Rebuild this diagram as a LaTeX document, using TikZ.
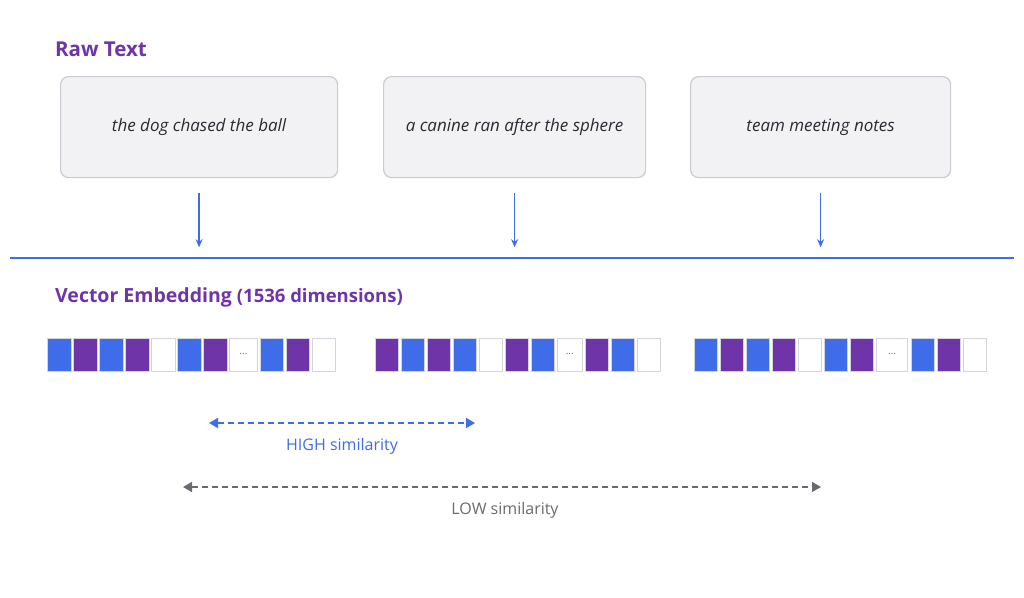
\documentclass[tikz,border=0pt]{standalone}
\usepackage{fontspec}
\setmainfont{Open Sans}
\usetikzlibrary{arrows.meta}
\definecolor{vpurple}{HTML}{6F35A8}
\definecolor{vblue}{HTML}{3F6CE9}
\definecolor{boxfill}{HTML}{F2F2F4}
\definecolor{boxline}{HTML}{CBCBD1}
\definecolor{cellline}{HTML}{D4D4DC}
\definecolor{lowgray}{HTML}{6A6B70}
\definecolor{textdark}{HTML}{2A2A33}
\tikzset{
  heading/.style={anchor=base west, inner sep=0, text=vpurple, font=\fontsize{20.5}{25}\selectfont\bfseries},
  rawbox/.style={draw=boxline, line width=1.2pt, fill=boxfill, rounded corners=8pt, anchor=north west, inner sep=0,
     minimum height=101pt, font=\fontsize{17}{20}\selectfont\itshape, text=textdark},
  feed/.style={draw=vblue, line width=1.3pt, -{Stealth[length=8pt,width=7pt]}},
  cell/.style={draw=cellline, line width=1pt, anchor=north west, inner sep=0, minimum width=23.3pt, minimum height=33pt},
  simarrow/.style={line width=1.5pt, dash pattern=on 6pt off 4pt, {Triangle[length=9pt,width=10pt]}-{Triangle[length=9pt,width=10pt]}},
  simlabel/.style={font=\fontsize{16}{19}\selectfont, inner sep=0},
}
\newcommand\embrow[4]{% #1 start x, #2 dots width, #3 prefix, #4 list
  \foreach \c [count=\i] in {#4} {
    \ifnum\i<8
      \pgfmathsetmacro\xx{#1+(\i-1)*26}
      \node[cell, fill=\c] (#3\i) at (\xx,338) {};
    \else\ifnum\i=8
      \pgfmathsetmacro\xx{#1+182}
      \node[cell, fill=white, minimum width=#2 pt, font=\fontsize{10}{10}\selectfont, text=lowgray] (#3\i) at (\xx,338) {\raisebox{2pt}{...}};
    \else
      \pgfmathsetmacro\xx{#1+182+#2+3.5+(\i-9)*26}
      \node[cell, fill=\c] (#3\i) at (\xx,338) {};
    \fi\fi
  }
}
\begin{document}
\begin{tikzpicture}[x=1pt,y=-1pt]
\useasboundingbox[fill=white] (0,0) rectangle (1024,597);

\node[heading] (rawtitle) at (55,56) {Raw Text};

\node[rawbox, minimum width=277pt] (t1) at (60,76) {the dog chased the ball};
\node[rawbox, minimum width=262pt] (t2) at (383,76) {a canine ran after the sphere};
\node[rawbox, minimum width=260pt] (t3) at (690,76) {team meeting notes};

\coordinate (sepL) at (10,258);
\coordinate (sepR) at (1014,258);
\draw[vblue, line width=1.5pt] (sepL) -- (sepR);

\foreach \k in {1,2,3} {
  \draw[feed] ([yshift=-15pt]t\k.south) -- ([yshift=-69pt]t\k.south);
}

\node[heading, font=\fontsize{19.5}{24}\selectfont\bfseries] (vectitle) at (55,302) {Vector Embedding \fontsize{18.5}{22}\selectfont(1536 dimensions)};

\embrow{47.3}{27.3}{a}{vblue,vpurple,vblue,vpurple,white,vblue,vpurple,white,vblue,vpurple,white}
\embrow{375}{24.5}{b}{vpurple,vblue,vpurple,vblue,white,vpurple,vblue,white,vpurple,vblue,white}
\embrow{694}{31.3}{c}{vblue,vpurple,vblue,vpurple,white,vblue,vpurple,white,vblue,vpurple,white}

\coordinate (hiL) at (209,423);
\coordinate (hiR) at (475,423);
\draw[simarrow, vblue] (hiL) -- (hiR);
\node[simlabel, text=vblue] (hilab) at (342,446) {HIGH similarity};

\coordinate (loL) at (183,487);
\coordinate (loR) at (821,487);
\draw[simarrow, lowgray] (loL) -- (loR);
\node[simlabel, text=lowgray] (lolab) at (505,510) {LOW similarity};
\end{tikzpicture}
\end{document}
